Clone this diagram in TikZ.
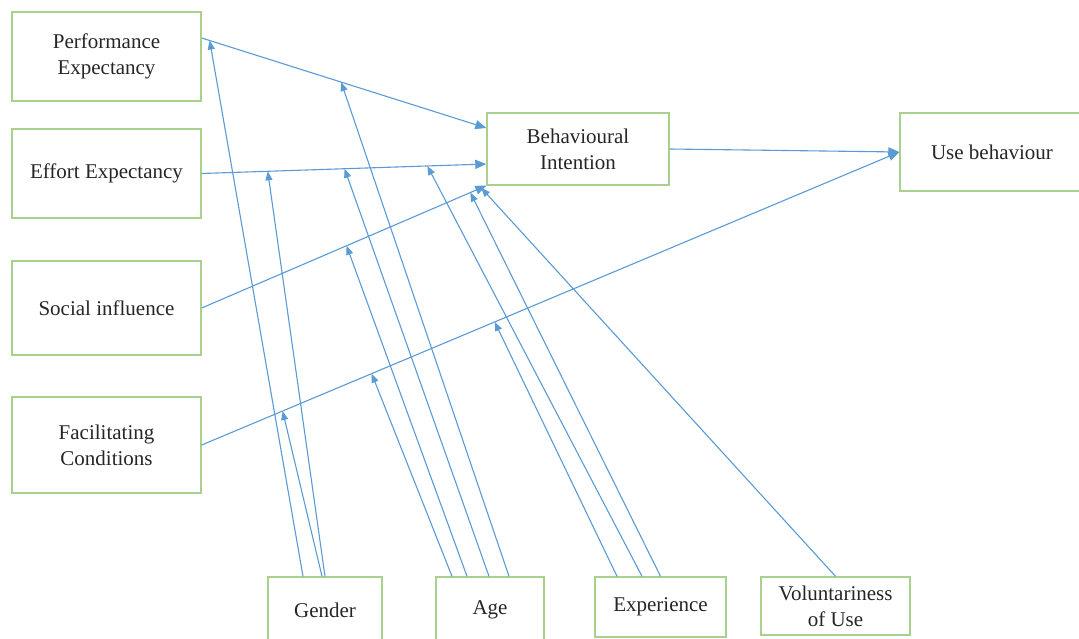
\documentclass[tikz,border=0pt]{standalone}
\usepackage{fontspec}
\setmainfont{Liberation Serif}
\usetikzlibrary{arrows.meta,calc}
\definecolor{boxgreen}{HTML}{A9D18E}
\definecolor{linkblue}{HTML}{5B9BD5}
\begin{document}
\begin{tikzpicture}[x=1pt,y=-1pt,
  box/.style={draw=boxgreen, line width=1.4pt, inner sep=0pt, align=center,
    font=\fontsize{21}{26}\selectfont, text=black!85},
  main/.style={draw=linkblue, line width=1.1pt, -{Triangle[length=11pt,width=9pt]}},
  mod/.style={draw=linkblue, line width=1.1pt, -{Triangle[length=9pt,width=7pt]}}]
% canvas
\useasboundingbox (0,0) rectangle (1079,639);
\fill[white] (0,0) rectangle (1079,639);
\clip (0,0) rectangle (1079,639);

% constructs
\node[box, minimum width=189pt, minimum height=89pt] (pe) at (106.5,56.5) {Performance\\Expectancy};
\node[box, minimum width=189pt, minimum height=89pt] (ee) at (106.5,173.5) {Effort Expectancy};
\node[box, minimum width=189pt, minimum height=94pt] (si) at (106.5,308) {Social influence};
\node[box, minimum width=189pt, minimum height=96pt] (fc) at (106.5,445) {Facilitating\\Conditions};
\node[box, minimum width=182pt, minimum height=72pt] (bi) at (578,149) {Behavioural\\Intention};
\node[box, minimum width=184pt, minimum height=78pt] (ub) at (992,152) {Use behaviour};

% moderators
\node[box, minimum width=114pt, minimum height=66pt] (gen) at (325,610) {Gender};
\node[box, minimum width=108pt, minimum height=66pt] (age) at (490,610) {Age};
\node[box, minimum width=131pt, minimum height=60pt] (exp) at (660.5,607) {Experience};
\node[box, minimum width=149pt, minimum height=58pt] (vol) at (835.5,606) {Voluntariness\\of Use};

% main paths, with the points where moderators attach
\draw[main] ([yshift=18.5pt]pe.east) --
  coordinate[pos=0.028] (pe1) coordinate[pos=0.49] (pe2)
  ([yshift=21pt]bi.west);
\draw[main] (ee.east) --
  coordinate[pos=0.232] (ee1) coordinate[pos=0.502] (ee2) coordinate[pos=0.793] (ee3)
  ([yshift=-15pt]bi.west);
\draw[main] (si.east) --
  coordinate[pos=0.509] (si1) coordinate[pos=0.944] (si2) coordinate[pos=0.982] (si3)
  (bi.south west);
\draw[main] (fc.east) --
  coordinate[pos=0.116] (fc1) coordinate[pos=0.2436] (fc2) coordinate[pos=0.42] (fc3)
  (ub.west);
\draw[main] (bi.east) -- (ub.west);

% moderating effects
\draw[mod] ([xshift=-22pt]gen.north) -- (pe1);
\draw[mod] (gen.north) -- (ee1);
\draw[mod] ([xshift=-3pt]gen.north) -- (fc1);
\draw[mod] ([xshift=19pt]age.north) -- (pe2);
\draw[mod] ([xshift=-1pt]age.north) -- (ee2);
\draw[mod] ([xshift=-23pt]age.north) -- (si1);
\draw[mod] ([xshift=-38pt]age.north) -- (fc2);
\draw[mod] ([xshift=-18.5pt]exp.north) -- (ee3);
\draw[mod] (exp.north) -- (si2);
\draw[mod] ([xshift=-43.5pt]exp.north) -- (fc3);
\draw[mod] (vol.north) -- (si3);
\end{tikzpicture}
\end{document}
